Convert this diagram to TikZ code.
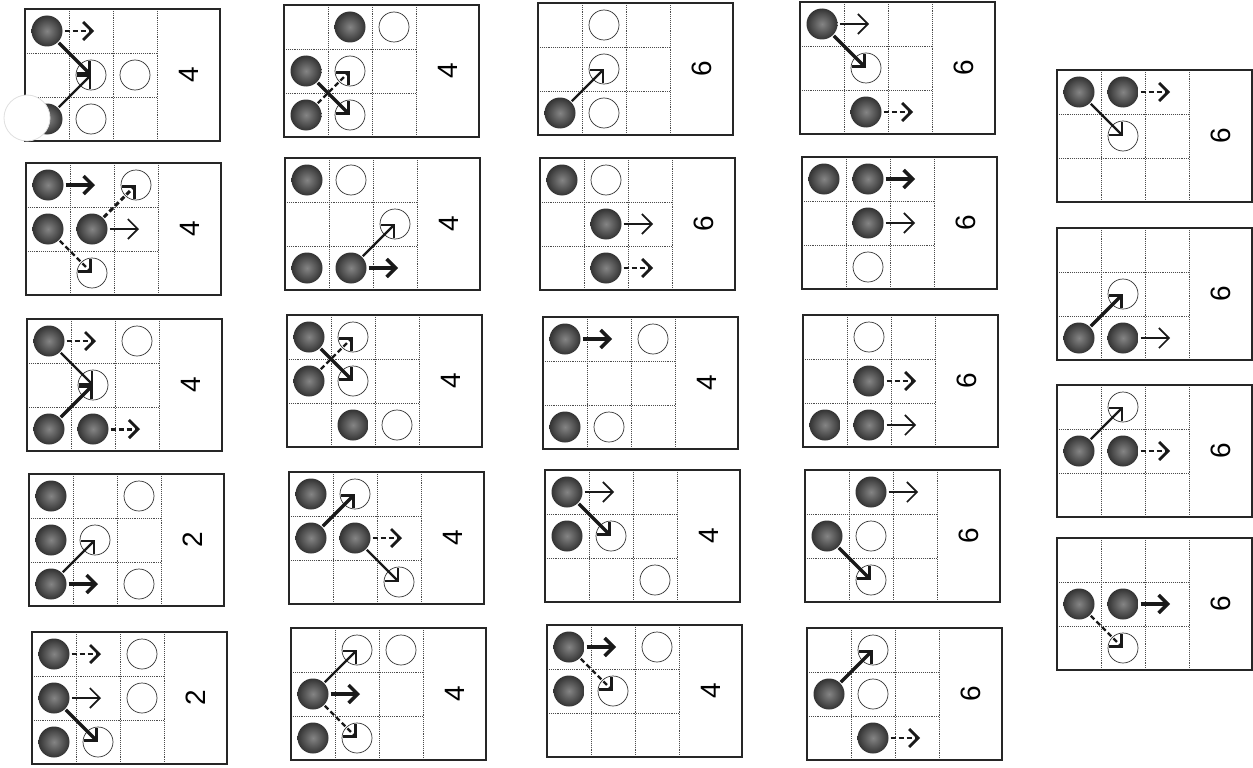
\documentclass[tikz,border=0pt]{standalone}
\usepackage{fontspec}
\setmainfont{Liberation Sans}
\usetikzlibrary{arrows.meta,calc}
\tikzset{
  gridline/.style={line width=0.9pt, black!70, densely dotted},
  frameline/.style={line width=1.1pt, black!85},
  ballnode/.style={circle, minimum size=31pt, inner sep=0pt, shading=radial, inner color=black!48, outer color=black!80},
  holenode/.style={circle, minimum size=30pt, inner sep=0pt, draw=black!80, line width=0.7pt, fill=white},
  numnode/.style={rotate=90, font=\fontsize{28}{28}\selectfont, inner sep=0pt},
  thinarr/.style={-{Straight Barb[length=10pt 0,width=20pt 0]}, black!90, line width=1.6pt},
  medarr/.style={-{Straight Barb[length=9pt 0,width=18pt 0]}, black!90, line width=2.3pt},
  thickarr/.style={-{Straight Barb[length=9pt 0,width=18pt 0]}, black!90, line width=3.4pt},
  dasharr/.style={-{Straight Barb[length=9pt 0,width=18pt 0,line width=2.8pt 0]}, black!90, line width=2.2pt, dash pattern=on 5pt off 3pt},
  thickdash/.style={-{Straight Barb[length=9pt 0,width=18pt 0]}, black!90, line width=3pt, dash pattern=on 5pt off 3pt},
}
\newcommand\cardframe[1]{%
  \draw[gridline] (44,0) -- (44,132) (88,0) -- (88,132) (132,0) -- (132,132) (0,44) -- (132,44) (0,88) -- (132,88);
  \draw[frameline] (0,0) rectangle (195,132);
  \node[numnode] (num) at (163.5,66) {#1};}
\newcommand\cball[2]{\node[ballnode] (b#1#2) at ({44*#1-22},{44*#2-22}) {};}
\newcommand\chole[2]{\node[holenode] (h#1#2) at ({44*#1-22},{44*#2-22}) {};}
\newcommand\harr[3]{\coordinate (e#2#3) at ($(b#2#3)+(47,0)$); \draw[#1, shorten <=2pt] (b#2#3.east) -- (e#2#3);}
\newcommand\darr[3]{\draw[#1, shorten <=1pt] (#2) -- (#3.center);}
\begin{document}
\begin{tikzpicture}[x=1pt,y=-1pt]
\useasboundingbox (0,0) rectangle (1253,768);
\fill[white] (0,0) rectangle (1253,768);
% column 1
\begin{scope}[shift={(25,9)}, name prefix=a1-]
\cardframe{4}
\cball11 \chole22 \chole32 \cball13 \chole23
\fill[white, draw=black!12, line width=0.8pt] (2,109) circle (23);
\harr{dasharr}11 \darr{thickarr}{b11}{h22} \darr{medarr}{b13}{h22}
\end{scope}
\begin{scope}[shift={(26,163)}, name prefix=a2-]
\cardframe{4}
\cball11 \chole31 \cball12 \cball22 \chole23
\harr{thickarr}11 \harr{thinarr}22 \darr{dasharr}{b12}{h23} \darr{thickdash}{b22}{h31}
\end{scope}
\begin{scope}[shift={(27,319)}, name prefix=a3-]
\cardframe{4}
\cball11 \chole31 \chole22 \cball13 \cball23
\harr{dasharr}11 \harr{thickdash}23 \darr{medarr}{b11}{h22} \darr{thickarr}{b13}{h22}
\end{scope}
\begin{scope}[shift={(29,474)}, name prefix=a4-]
\cardframe{2}
\cball11 \chole31 \cball12 \chole22 \cball13 \chole33
\harr{thickarr}13 \darr{medarr}{b13}{h22}
\end{scope}
\begin{scope}[shift={(32,632)}, name prefix=a5-]
\cardframe{2}
\cball11 \chole31 \cball12 \chole32 \cball13 \chole23
\harr{dasharr}11 \harr{thinarr}12 \darr{thickarr}{b12}{h23}
\end{scope}
% column 2
\begin{scope}[shift={(284,5)}, name prefix=b1-]
\cardframe{4}
\cball21 \chole31 \cball12 \chole22 \cball13 \chole23
\darr{dasharr}{b13}{h22} \darr{thickarr}{b12}{h23}
\end{scope}
\begin{scope}[shift={(285,158)}, name prefix=b2-]
\cardframe{4}
\cball11 \chole21 \chole32 \cball13 \cball23
\harr{thickarr}23 \darr{medarr}{b23}{h32}
\end{scope}
\begin{scope}[shift={(287,315)}, name prefix=b3-]
\cardframe{4}
\cball11 \chole21 \cball12 \chole22 \cball23 \chole33
\darr{thickarr}{b11}{h22} \darr{dasharr}{b12}{h21}
\end{scope}
\begin{scope}[shift={(289,472)}, name prefix=b4-]
\cardframe{4}
\cball11 \chole21 \cball12 \cball22 \chole33
\darr{thickarr}{b12}{h21} \harr{dasharr}22 \darr{medarr}{b22}{h33}
\end{scope}
\begin{scope}[shift={(291,628)}, name prefix=b5-]
\cardframe{4}
\chole21 \chole31 \cball12 \cball13 \chole23
\darr{medarr}{b12}{h21} \harr{thickarr}12 \darr{dasharr}{b12}{h23}
\end{scope}
% column 3
\begin{scope}[shift={(538,3)}, name prefix=c1-]
\cardframe{6}
\chole21 \chole22 \cball13 \chole23
\darr{medarr}{b13}{h22}
\end{scope}
\begin{scope}[shift={(540,158)}, name prefix=c2-]
\cardframe{6}
\cball11 \chole21 \cball22 \cball23
\harr{thinarr}22 \harr{dasharr}23
\end{scope}
\begin{scope}[shift={(543,317)}, name prefix=c3-]
\cardframe{4}
\cball11 \chole31 \cball13 \chole23
\harr{thickarr}11
\end{scope}
\begin{scope}[shift={(545,470)}, name prefix=c4-]
\cardframe{4}
\cball11 \cball12 \chole22 \chole33
\harr{thinarr}11 \darr{thickarr}{b11}{h22}
\end{scope}
\begin{scope}[shift={(547,625)}, name prefix=c5-]
\cardframe{4}
\cball11 \chole31 \cball12 \chole22
\harr{thickarr}11 \darr{dasharr}{b11}{h22}
\end{scope}
% column 4
\begin{scope}[shift={(800,2)}, name prefix=d1-]
\cardframe{6}
\cball11 \chole22 \cball23
\harr{thinarr}11 \darr{thickarr}{b11}{h22} \harr{dasharr}23
\end{scope}
\begin{scope}[shift={(802,157)}, name prefix=d2-]
\cardframe{6}
\cball11 \cball21 \cball22 \chole23
\harr{thickarr}21 \harr{thinarr}22
\end{scope}
\begin{scope}[shift={(803,315)}, name prefix=d3-]
\cardframe{6}
\chole21 \cball22 \cball13 \cball23
\harr{dasharr}22 \harr{thinarr}23
\end{scope}
\begin{scope}[shift={(805,470)}, name prefix=d4-]
\cardframe{6}
\cball21 \cball12 \chole22 \chole23
\harr{thinarr}21 \darr{thickarr}{b12}{h23}
\end{scope}
\begin{scope}[shift={(807,628)}, name prefix=d5-]
\cardframe{6}
\chole21 \cball12 \chole22 \cball23
\darr{thickarr}{b12}{h21} \harr{dasharr}23
\end{scope}
% column 5
\begin{scope}[shift={(1057,70)}, name prefix=e1-]
\cardframe{6}
\cball11 \cball21 \chole22
\harr{dasharr}21 \darr{medarr}{b11}{h22}
\end{scope}
\begin{scope}[shift={(1057,228)}, name prefix=e2-]
\cardframe{6}
\chole22 \cball13 \cball23
\darr{thickarr}{b13}{h22} \harr{thinarr}23
\end{scope}
\begin{scope}[shift={(1057,385)}, name prefix=e3-]
\cardframe{6}
\chole21 \cball12 \cball22
\darr{medarr}{b12}{h21} \harr{dasharr}22
\end{scope}
\begin{scope}[shift={(1057,538)}, name prefix=e4-]
\cardframe{6}
\cball12 \cball22 \chole23
\harr{thickarr}22 \darr{dasharr}{b12}{h23}
\end{scope}
\end{tikzpicture}
\end{document}
